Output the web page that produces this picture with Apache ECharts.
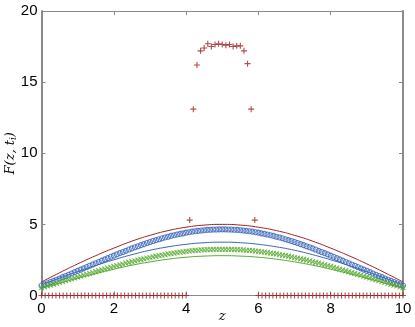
<!DOCTYPE html>
<html>
<head>
<meta charset="utf-8">
<script src="https://cdn.jsdelivr.net/npm/echarts@6/dist/echarts.min.js"></script>
<style>
html,body{margin:0;padding:0;background:#fff;}
#chart{width:415px;height:327px;}
</style>
</head>
<body>
<div id="chart"></div>
<script>
// smooth curves, sampled every 0.5
var zLine = [0,0.5,1,1.5,2,2.5,3,3.5,4,4.5,5,5.5,6,6.5,7,7.5,8,8.5,9,9.5,10];
var redLine = [0.95,1.6,2.22,2.8,3.33,3.82,4.23,4.56,4.8,4.95,5.0,4.95,4.8,4.56,4.23,3.82,3.33,2.8,2.22,1.6,0.95];
var blueLine = [0.75,1.22,1.68,2.11,2.51,2.87,3.18,3.42,3.6,3.71,3.75,3.71,3.6,3.42,3.18,2.87,2.51,2.11,1.68,1.22,0.75];
var greenLine = [0.5,0.86,1.21,1.54,1.85,2.13,2.36,2.55,2.69,2.77,2.8,2.77,2.69,2.55,2.36,2.13,1.85,1.54,1.21,0.86,0.5];

// marker samples (circles and crosses)
var zMark = [
 0,0.083,0.167,0.25,0.333,0.417,0.5,0.583,0.667,0.75,0.833,0.917,
 1,1.083,1.167,1.25,1.333,1.417,1.5,1.583,1.667,1.75,1.833,1.917,
 2,2.083,2.167,2.25,2.333,2.417,2.5,2.583,2.667,2.75,2.833,2.917,
 3,3.083,3.167,3.25,3.333,3.417,3.5,3.583,3.667,3.75,3.833,3.917,
 4,4.083,4.167,4.25,4.333,4.417,4.5,4.583,4.667,4.75,4.833,4.917,
 5,5.083,5.167,5.25,5.333,5.417,5.5,5.583,5.667,5.75,5.833,5.917,
 6,6.083,6.167,6.25,6.333,6.417,6.5,6.583,6.667,6.75,6.833,6.917,
 7,7.083,7.167,7.25,7.333,7.417,7.5,7.583,7.667,7.75,7.833,7.917,
 8,8.083,8.167,8.25,8.333,8.417,8.5,8.583,8.667,8.75,8.833,8.917,
 9,9.083,9.167,9.25,9.333,9.417,9.5,9.583,9.667,9.75,9.833,9.917,
 10];
var blueCirc = [
 0.70,0.78,0.86,0.95,1.03,1.11,1.20,1.29,1.37,1.46,1.55,1.64,
 1.73,1.82,1.91,2.00,2.09,2.18,2.27,2.36,2.45,2.54,2.63,2.72,
 2.80,2.89,2.98,3.06,3.14,3.23,3.31,3.39,3.46,3.54,3.61,3.69,
 3.76,3.83,3.89,3.95,4.02,4.08,4.13,4.19,4.24,4.29,4.33,4.37,
 4.42,4.45,4.49,4.52,4.54,4.57,4.59,4.61,4.62,4.64,4.64,4.65,
 4.65,
 4.65,4.64,4.64,4.62,4.61,4.59,4.57,4.54,4.52,4.49,4.45,4.42,
 4.37,4.33,4.29,4.24,4.19,4.13,4.08,4.02,3.95,3.89,3.83,3.76,
 3.69,3.61,3.54,3.46,3.39,3.31,3.23,3.14,3.06,2.98,2.89,2.80,
 2.72,2.63,2.54,2.45,2.36,2.27,2.18,2.09,2.00,1.91,1.82,1.73,
 1.64,1.55,1.46,1.37,1.29,1.20,1.11,1.03,0.95,0.86,0.78,0.70];
var greenCross = [
 0.55,0.61,0.67,0.73,0.79,0.86,0.92,0.98,1.05,1.11,1.17,1.24,
 1.30,1.36,1.43,1.49,1.55,1.61,1.68,1.74,1.80,1.86,1.92,1.98,
 2.04,2.10,2.16,2.21,2.27,2.32,2.38,2.43,2.48,2.53,2.58,2.63,
 2.67,2.72,2.76,2.80,2.84,2.88,2.92,2.95,2.98,3.02,3.05,3.07,
 3.10,3.12,3.15,3.17,3.18,3.20,3.21,3.22,3.23,3.24,3.25,3.25,
 3.25,
 3.25,3.25,3.24,3.23,3.22,3.21,3.20,3.18,3.17,3.15,3.12,3.10,
 3.07,3.05,3.02,2.98,2.95,2.92,2.88,2.84,2.80,2.76,2.72,2.67,
 2.63,2.58,2.53,2.48,2.43,2.38,2.32,2.27,2.21,2.16,2.10,2.04,
 1.98,1.92,1.86,1.80,1.74,1.68,1.61,1.55,1.49,1.43,1.36,1.30,
 1.24,1.17,1.11,1.05,0.98,0.92,0.86,0.79,0.73,0.67,0.61,0.55];

// red plus markers, every 0.1
var zPlus = [
 0,0.1,0.2,0.3,0.4,0.5,0.6,0.7,0.8,0.9,
 1,1.1,1.2,1.3,1.4,1.5,1.6,1.7,1.8,1.9,
 2,2.1,2.2,2.3,2.4,2.5,2.6,2.7,2.8,2.9,
 3,3.1,3.2,3.3,3.4,3.5,3.6,3.7,3.8,3.9,
 4,4.1,4.2,4.3,4.4,4.5,4.6,4.7,4.8,4.9,
 5,5.1,5.2,5.3,5.4,5.5,5.6,5.7,5.8,5.9,
 6,6.1,6.2,6.3,6.4,6.5,6.6,6.7,6.8,6.9,
 7,7.1,7.2,7.3,7.4,7.5,7.6,7.7,7.8,7.9,
 8,8.1,8.2,8.3,8.4,8.5,8.6,8.7,8.8,8.9,
 9,9.1,9.2,9.3,9.4,9.5,9.6,9.7,9.8,9.9,
 10];
var redPlus = [
 0,0,0,0,0,0,0,0,0,0,
 0,0,0,0,0,0,0,0,0,0,
 0,0,0,0,0,0,0,0,0,0,
 0,0,0,0,0,0,0,0,0,0,
 0,5.3,13.1,16.2,17.2,17.4,17.7,17.5,17.65,17.7,
 17.65,17.6,17.65,17.5,17.55,17.55,17.2,16.3,13.1,5.3,
 0,0,0,0,0,0,0,0,0,0,
 0,0,0,0,0,0,0,0,0,0,
 0,0,0,0,0,0,0,0,0,0,
 0,0,0,0,0,0,0,0,0,0,
 0];

function pairs(xs, ys){ return xs.map(function(x,i){ return [x, ys[i]]; }); }

var RED = '#a01f1f', BLUE = '#3764b8', GREEN = '#55aa30', GRAY = '#8a8a8a';
var PLUS = 'path://M5,0L5,10M0,5L10,5';
var CROSS = 'path://M0,0L10,10M10,0L0,10';

var myChart = echarts.init(document.getElementById('chart'));

function axisCommon(show){
  return {
    axisLine:{show:true, onZero:false, lineStyle:{color:GRAY, width:1}},
    axisTick:{show:true, inside:true, length:4, lineStyle:{color:GRAY, width:1}},
    splitLine:{show:false},
    axisLabel:{show:show, color:'#000', fontFamily:'Liberation Sans', fontSize:15}
  };
}

var xMain = Object.assign(axisCommon(true), {
  type:'value', min:0, max:10, interval:2, position:'bottom',
  name:'z', nameLocation:'middle', nameGap:15, nameMoveOverlap:false,
  nameTextStyle:{fontFamily:'DejaVu Serif', fontStyle:'italic', fontSize:13, color:'#000'}
});
xMain.axisLabel.margin = 6;
var xTop = Object.assign(axisCommon(false), {type:'value', min:0, max:10, interval:2, position:'top'});
var yMain = Object.assign(axisCommon(true), {
  type:'value', min:0, max:20, interval:5, position:'left',
  name:'F(z, t{s|i})', nameLocation:'middle', nameGap:23, nameRotate:90, nameMoveOverlap:false,
  nameTextStyle:{fontFamily:'DejaVu Serif', fontStyle:'italic', fontSize:13, color:'#000',
    rich:{s:{fontFamily:'DejaVu Serif', fontStyle:'italic', fontSize:9, verticalAlign:'bottom', padding:[6,0,0,0]}}}
});
yMain.axisLine.lineStyle.width = 2;
yMain.axisLabel.margin = 4;
var yRight = Object.assign(axisCommon(false), {type:'value', min:0, max:20, interval:5, position:'right'});
yRight.axisLine.lineStyle.width = 2;

myChart.setOption({
  animation:false,
  backgroundColor:'#fff',
  grid:{left:41.5, right:12, top:11, bottom:31.5, outerBoundsMode:'none', containLabel:false},
  xAxis:[xMain, xTop],
  yAxis:[yMain, yRight],
  series:[
    {type:'line', data:pairs(zLine, redLine), smooth:true, showSymbol:false,
     lineStyle:{color:RED, width:1}, z:3},
    {type:'line', data:pairs(zLine, blueLine), smooth:true, showSymbol:false,
     lineStyle:{color:BLUE, width:1}, z:3},
    {type:'line', data:pairs(zLine, greenLine), smooth:true, showSymbol:false,
     lineStyle:{color:GREEN, width:1}, z:3},
    {type:'scatter', data:pairs(zMark, blueCirc), symbol:'circle', symbolSize:5,
     itemStyle:{color:'rgba(0,0,0,0)', borderColor:BLUE, borderWidth:1.1}, z:4},
    {type:'scatter', data:pairs(zMark, greenCross), symbol:CROSS, symbolSize:5,
     itemStyle:{color:'rgba(0,0,0,0)', borderColor:GREEN, borderWidth:1.1}, z:4},
    {type:'scatter', data:pairs(zPlus, redPlus), symbol:PLUS, symbolSize:6, clip:false,
     itemStyle:{color:'rgba(0,0,0,0)', borderColor:RED, borderWidth:1.1}, z:5}
  ]
});
</script>
</body>
</html>
